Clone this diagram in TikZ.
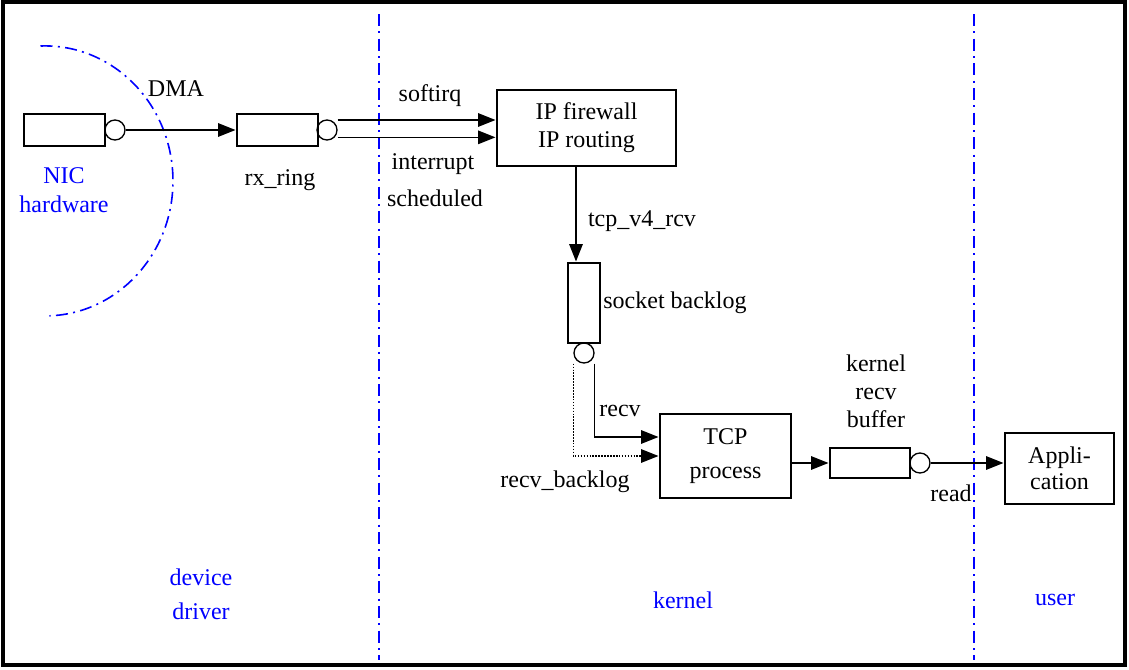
\documentclass[tikz,border=0pt]{standalone}
\usepackage{fontspec}
\setmainfont{Liberation Serif}
\usetikzlibrary{arrows.meta,calc}
\begin{document}
\begin{tikzpicture}[x=0.75pt,y=-0.75pt,
  every node/.style={font=\fontsize{18}{21}\selectfont},
  qbox/.style={draw,line width=2.2pt,rectangle,inner sep=0pt},
  pbox/.style={draw,line width=2.2pt,rectangle,align=center,inner sep=0pt},
  ring/.style={draw,circle,line width=1pt,minimum size=15pt,inner sep=0pt},
  arr/.style={line width=1.2pt,-{Triangle[length=13pt,width=10pt]}},
  divider/.style={blue,line width=1.2pt,dash pattern=on 9pt off 4pt on 1.5pt off 4pt},
  lbl/.style={inner sep=0pt,align=center},
  blbl/.style={inner sep=0pt,align=center,text=blue}]
\useasboundingbox (0,0) rectangle (1129,669);
\draw[line width=3pt] (3,2) rectangle (1125,665);
% dividers
\draw[divider] (379,14) -- (379,660);
\draw[divider] (974,14) -- (974,660);
\draw[divider] (40.5,46) arc[start angle=92,end angle=-88,x radius=96pt,y radius=101.25pt];
% queues and boxes
\node[qbox,minimum width=60.75pt,minimum height=24pt] (nic) at (64.5,130) {};
\node[ring] (nicc) at (115,130) {};
\node[qbox,minimum width=60.75pt,minimum height=24pt] (rx) at (277.5,130) {};
\node[ring] (rxc) at (327,130) {};
\node[pbox,minimum width=134.25pt,minimum height=57pt,font=\fontsize{18}{21}\selectfont] (ip) at (586.5,128) {IP firewall\\IP routing};
\node[qbox,minimum width=24pt,minimum height=60pt] (sock) at (584,303) {};
\node[ring] (sockc) at (584,353) {};
\node[pbox,minimum width=98.25pt,minimum height=63pt,font=\fontsize{18}{26}\selectfont] (tcp) at (725.5,456) {TCP\\process};
\node[qbox,minimum width=60pt,minimum height=22.5pt] (kbuf) at (870,463) {};
\node[ring] (kbufc) at (920,463) {};
\node[pbox,minimum width=81.75pt,minimum height=53.25pt,font=\fontsize{18}{19.5}\selectfont] (app) at (1059.5,468.5) {Appli-\\cation};
% connectors
\draw[arr] (nicc.east) -- (rx.west);
\draw[arr] ([yshift=7.5pt]rxc.east) -- ([yshift=7.5pt]rxc.east -| ip.west);
\draw[arr] ([yshift=-5.5pt]rxc.east) -- ([yshift=-5.5pt]rxc.east -| ip.west);
\draw[arr] ([xshift=-6pt]sock.north |- ip.south) -- ([xshift=-6pt]sock.north);
\draw[arr] ([xshift=8pt]sockc.south) |- ([yshift=14.25pt]tcp.west);
\draw[arr,densely dotted] ([xshift=-8pt]sockc.south) |- (tcp.west);
\draw[arr] ([yshift=-5.25pt]tcp.east) -- (kbuf.west);
\draw[arr] (kbufc.east) -- (kbufc.east -| app.west);
% labels
\node[lbl] (dma) at (176,89) {DMA};
\node[blbl,font=\fontsize{18}{22}\selectfont] (nicl) at (64,190) {NIC\\hardware};
\node[lbl] (rxl) at (280,180) {rx\_ring};
\node[lbl] (soft) at (430,96) {softirq};
\node[lbl] (intr) at (433,164) {interrupt};
\node[lbl] (sched) at (435,198) {scheduled};
\node[lbl] (tcpv) at (642,221) {tcp\_v4\_rcv};
\node[lbl] (sockl) at (675,303) {socket backlog};
\node[lbl] (recv) at (620,411) {recv};
\node[lbl] (recvb) at (565,482) {recv\_backlog};
\node[lbl] (kbl) at (876,391) {kernel\\recv\\buffer};
\node[lbl] (read) at (951,493) {read};
\node[blbl,font=\fontsize{18}{25.5}\selectfont] (dev) at (201,594) {device\\driver};
\node[blbl] (kern) at (683,600) {kernel};
\node[blbl] (user) at (1055,600) {user};
\end{tikzpicture}
\end{document}
